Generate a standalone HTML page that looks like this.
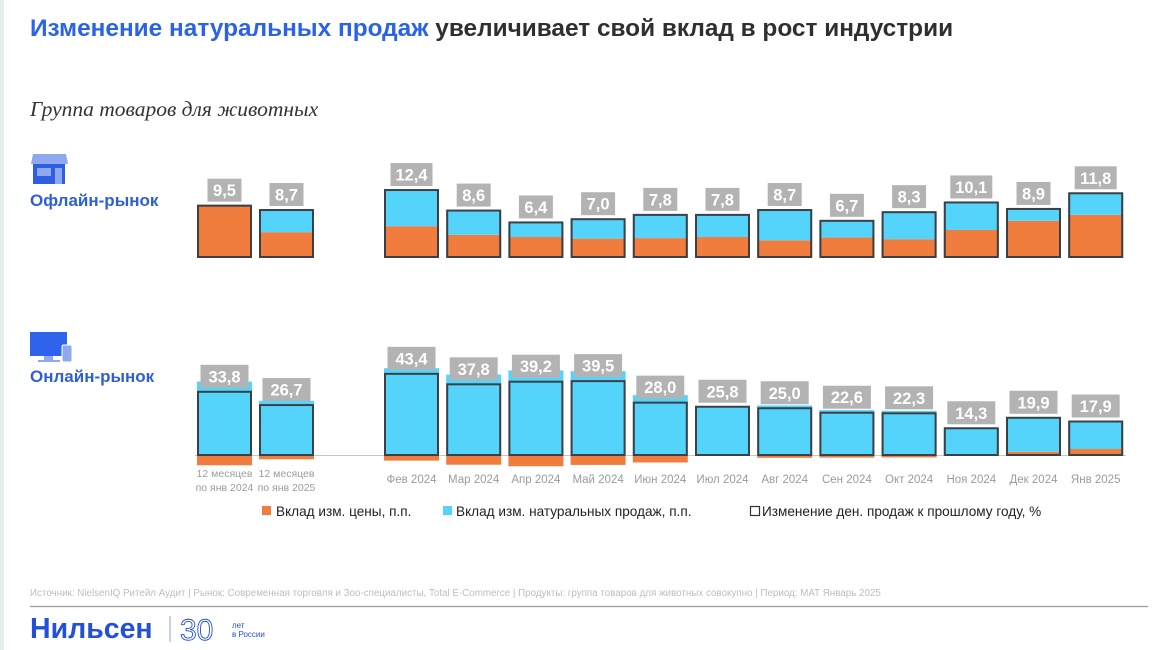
<!DOCTYPE html>
<html><head><meta charset="utf-8">
<style>
html,body{margin:0;padding:0;background:#fff;}
body{width:1170px;height:650px;position:relative;overflow:hidden;font-family:"Liberation Sans",Arial,sans-serif;}
#lb{position:absolute;left:0;top:0;width:4px;height:650px;background:#e3efec;}
svg{position:absolute;left:0;top:0;}
</style></head>
<body>
<div id="lb"></div>
<svg id="c" width="1170" height="650" xmlns="http://www.w3.org/2000/svg">
  <text x="30" y="36" font-size="24.4" font-weight="bold" font-family="Liberation Sans, sans-serif"><tspan fill="#2a63e8">Изменение натуральных продаж</tspan><tspan fill="#2f2f2f"> увеличивает свой вклад в рост индустрии</tspan></text>
  <text x="30" y="116" font-size="21.5" font-style="italic" fill="#333" font-family="Liberation Serif, serif">Группа товаров для животных</text>

  <g>
    <path d="M33 154 H66 L68 164 H31 Z" fill="#8fa9f0"/>
    <rect x="33" y="164" width="32" height="20" fill="#2f5fe0"/>
    <rect x="37" y="168" width="14" height="8" fill="#8fa9f0"/>
    <rect x="55" y="168" width="7" height="16" fill="#8fa9f0"/>
  </g>
  <text x="30" y="206" font-size="17" font-weight="bold" fill="#2f5fd6">Офлайн-рынок</text>
  <g>
    <rect x="30" y="332" width="37" height="24" fill="#2f63ee"/>
    <rect x="44" y="356" width="9" height="4" fill="#8fa9f0"/>
    <rect x="38" y="360" width="22" height="2" fill="#8fa9f0"/>
    <rect x="62" y="345" width="10" height="17" rx="1.5" fill="#8fa9f0" stroke="#fff" stroke-width="1"/>
  </g>
  <text x="30" y="382" font-size="17" font-weight="bold" fill="#2f5fd6">Онлайн-рынок</text>

  <g id="bars"></g>

  <g>
    <rect x="262" y="506" width="9" height="9" fill="#f07c3e"/>
    <text x="276" y="516" font-size="13.6" fill="#222">Вклад изм. цены, п.п.</text>
    <rect x="443" y="506" width="9" height="9" fill="#55d4fb"/>
    <text x="456" y="516" font-size="13.6" fill="#222">Вклад изм. натуральных продаж, п.п.</text>
    <rect x="750.5" y="506.5" width="9" height="9" fill="#fff" stroke="#333" stroke-width="1.2"/>
    <text x="762" y="516" font-size="13.6" fill="#222">Изменение ден. продаж к прошлому году, %</text>
  </g>

  <text x="30" y="596" font-size="9.8" fill="#bdbdbd">Источник: NielsenIQ Ритейл Аудит | Рынок: Современная торговля и Зоо-специалисты, Total E-Commerce | Продукты: группа товаров для животных совокупно | Период: MAT Январь 2025</text>
  <line x1="30" y1="606.5" x2="1148" y2="606.5" stroke="#9a9a9a" stroke-width="1.3"/>
  <text x="30" y="638" font-size="28.5" font-weight="bold" fill="#2350d8">Нильсен</text>
  <line x1="170" y1="616" x2="170" y2="642" stroke="#8fa2d6" stroke-width="1"/>
  <text x="180" y="640" font-size="30" font-weight="normal" fill="none" stroke="#2350d8" stroke-width="0.9">30</text>
  <text x="232" y="628" font-size="8" fill="#2350d8">лет</text>
  <text x="232" y="637" font-size="8" fill="#2350d8">в России</text>
</svg>
<script>
// ---- data ----
const categories = ["12 месяцев|по янв 2024","12 месяцев|по янв 2025","Фев 2024","Мар 2024","Апр 2024","Май 2024","Июн 2024","Июл 2024","Авг 2024","Сен 2024","Окт 2024","Ноя 2024","Дек 2024","Янв 2025"];
const offlineTotal = [9.5, 8.7, 12.4, 8.6, 6.4, 7.0, 7.8, 7.8, 8.7, 6.7, 8.3, 10.1, 8.9, 11.8];
const offlinePrice = [9.7, 4.6, 5.7, 4.1, 3.7, 3.4, 3.5, 3.7, 3.1, 3.6, 3.3, 5.0, 6.7, 7.8];
const offlineLabels = ["9,5","8,7","12,4","8,6","6,4","7,0","7,8","7,8","8,7","6,7","8,3","10,1","8,9","11,8"];
const onlineTotal = [33.8, 26.7, 43.4, 37.8, 39.2, 39.5, 28.0, 25.8, 25.0, 22.6, 22.3, 14.3, 19.9, 17.9];
const onlinePrice = [-5.5, -2.3, -3.0, -5.2, -6.0, -5.3, -4.0, 0, -1.5, -1.4, -1.3, 0, 1.7, 3.2];
const onlineLabels = ["33,8","26,7","43,4","37,8","39,2","39,5","28,0","25,8","25,0","22,6","22,3","14,3","19,9","17,9"];

const NS = "http://www.w3.org/2000/svg";
const g = document.getElementById("bars");
function mk(tag, attrs, parent){
  const e = document.createElementNS(NS, tag);
  for (const k in attrs) e.setAttribute(k, attrs[k]);
  (parent||g).appendChild(e);
  return e;
}
const BW = 55;
function xPos(i){ return i < 2 ? 197 + i*62 : 384 + (i-2)*62.2; }
function yOff(v){ return 257 - v*5.4; }
function yOn(v){ return 455 - v*1.87; }
const ORANGE = "#f07c3e", CYAN = "#55d4fb";

function drawPanel(total, price, labels, yf, zero, name, labelW){
  for (let i = 0; i < categories.length; i++){
    const x = xPos(i);
    const nat = total[i] - price[i];
    const grp = mk("g", {});
    
    
    const p0 = yf(0), p1 = yf(price[i]);
    const pr = mk("rect", {x: x, y: Math.min(p0,p1), width: BW, height: Math.abs(p1-p0), fill: ORANGE}, grp);
    
    
    const base = price[i] > 0 ? price[i] : 0;
    const n0 = yf(base), n1 = yf(base + nat);
    const nr = mk("rect", {x: x, y: Math.min(n0,n1), width: BW, height: Math.abs(n1-n0), fill: CYAN}, grp);
    
    
    const t1 = yf(total[i]);
    const tr = mk("rect", {x: x+1, y: Math.min(t1,zero), width: BW-2, height: Math.abs(zero-t1), fill: "none", stroke: "#3c3f44", "stroke-width": 2}, grp);
    
    
    const lw = labels[i].length > 3 ? labelW : labelW - 8;
    const ly = t1 - 4 - 23;
    const lb = mk("rect", {x: x + BW/2 - lw/2, y: ly, width: lw, height: 23, fill: "#b3b3b3"}, grp);
    
    
    const lt = mk("text", {x: x + BW/2, y: ly + 17.5, "text-anchor": "middle", "font-size": 16.5, "font-weight": "bold", fill: "#fff"}, grp);
    lt.textContent = labels[i];
    
    
  }
}
drawPanel(offlineTotal, offlinePrice, offlineLabels, yOff, 257, "offline", 42);
const bl = mk("line", {x1: 195, y1: 455.5, x2: 1126, y2: 455.5, stroke: "#c8c8c8", "stroke-width": 1});


drawPanel(onlineTotal, onlinePrice, onlineLabels, yOn, 455, "online", 48);

for (let i = 0; i < categories.length; i++){
  const cx = xPos(i) + BW/2;
  const parts = categories[i].split("|");
  parts.forEach((p, j) => {
    const t = mk("text", {x: cx, y: parts.length > 1 ? 477 + j*14 : 483, "text-anchor": "middle", "font-size": parts.length > 1 ? 10.5 : 11.5, fill: "#9b9b9b"});
    t.textContent = p;
    
    
  });
}
</script>
</body></html>
